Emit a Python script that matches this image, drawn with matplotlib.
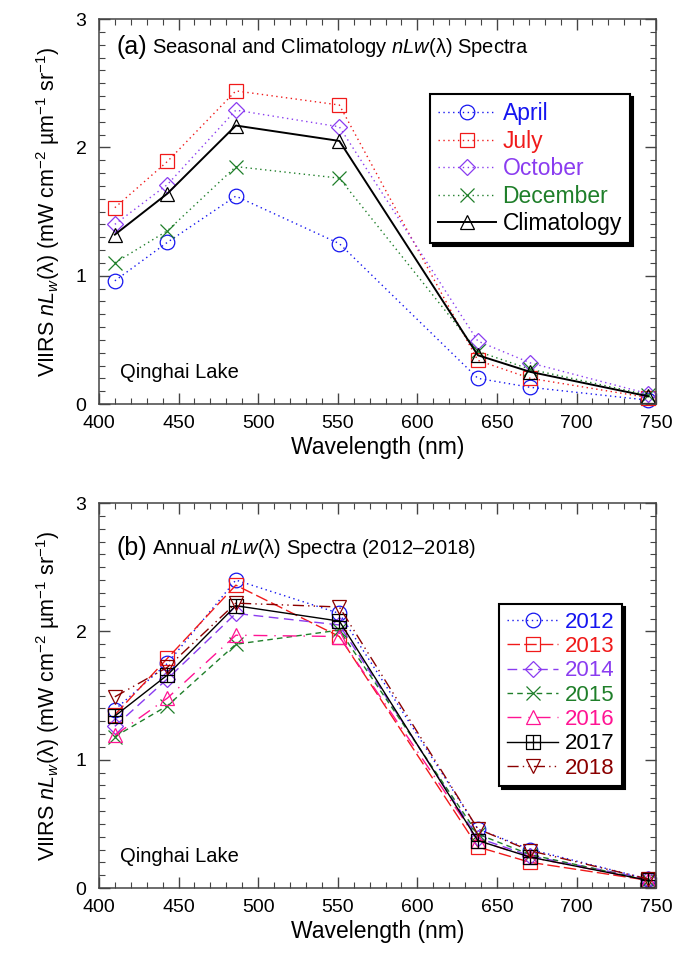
import numpy as np
import matplotlib
matplotlib.use("Agg")
import matplotlib.pyplot as plt
from matplotlib.path import Path
from matplotlib.ticker import MultipleLocator

plt.rcParams['font.family'] = ['Liberation Sans', 'DejaVu Sans']
plt.rcParams['mathtext.fontset'] = 'custom'
plt.rcParams['mathtext.rm'] = 'Liberation Sans'
plt.rcParams['mathtext.it'] = 'Liberation Sans:italic'

## VIIRS band centre wavelengths (nm)
wavelength = [410, 443, 486, 551, 638, 671, 745]

## seasonal and climatology spectra
april = [0.96, 1.26, 1.62, 1.25, 0.20, 0.13, 0.03]
july = [1.53, 1.89, 2.44, 2.33, 0.34, 0.20, 0.05]
october = [1.40, 1.71, 2.29, 2.16, 0.49, 0.32, 0.08]
december = [1.10, 1.35, 1.85, 1.76, 0.41, 0.27, 0.07]
climatology = [1.32, 1.64, 2.17, 2.05, 0.38, 0.25, 0.06]

## annual spectra
y2012 = [1.39, 1.75, 2.40, 2.14, 0.46, 0.30, 0.07]
y2013 = [1.35, 1.79, 2.36, 1.96, 0.32, 0.20, 0.06]
y2014 = [1.26, 1.63, 2.14, 2.05, 0.39, 0.25, 0.07]
y2015 = [1.18, 1.42, 1.90, 2.01, 0.42, 0.26, 0.06]
y2016 = [1.19, 1.48, 1.97, 1.96, 0.37, 0.24, 0.06]
y2017 = [1.34, 1.66, 2.20, 2.08, 0.37, 0.24, 0.06]
y2018 = [1.49, 1.72, 2.22, 2.19, 0.46, 0.29, 0.07]

# square with a cross inside, for 2017
boxplus = Path([(-1, -1), (1, -1), (1, 1), (-1, 1), (-1, -1),
                (0, -1), (0, 1), (-1, 0), (1, 0)],
               [Path.MOVETO, Path.LINETO, Path.LINETO, Path.LINETO, Path.CLOSEPOLY,
                Path.MOVETO, Path.LINETO, Path.MOVETO, Path.LINETO])

dotted = (0, (1, 2.5))

seasonal = [
    ("April", april, "#1515f0", "o", dotted, 1.0),
    ("July", july, "#f01a1a", "s", dotted, 1.0),
    ("October", october, "#8a3cf0", "D", dotted, 1.0),
    ("December", december, "#1f7f2a", "x", dotted, 1.0),
    ("Climatology", climatology, "black", "^", "-", 1.4),
]

annual = [
    ("2012", y2012, "#1515f0", "o", dotted),
    ("2013", y2013, "#f01a1a", "s", (0, (9, 3))),
    ("2014", y2014, "#8a3cf0", "D", (0, (7, 4))),
    ("2015", y2015, "#1f7f2a", "x", (0, (4, 3))),
    ("2016", y2016, "#ff1493", "^", (0, (10, 5, 1, 5))),
    ("2017", y2017, "black", boxplus, "-"),
    ("2018", y2018, "#8b0000", "v", (0, (8, 3, 1, 3, 1, 3))),
]

fig = plt.figure(figsize=(6.73, 9.56), dpi=100)
ax1 = fig.add_axes([0.147, 0.5774, 0.828, 0.4027])
ax2 = fig.add_axes([0.147, 0.0711, 0.828, 0.4027])


def style_axes(ax):
    ax.set_xlim(400, 750)
    ax.set_ylim(0, 3)
    ax.xaxis.set_major_locator(MultipleLocator(50))
    ax.xaxis.set_minor_locator(MultipleLocator(10))
    ax.yaxis.set_major_locator(MultipleLocator(1))
    ax.yaxis.set_minor_locator(MultipleLocator(0.1))
    ax.tick_params(which='both', direction='in', top=True, right=True,
                   labelsize=14, color='#444444')
    ax.tick_params(which='major', length=8, width=1)
    ax.tick_params(which='minor', length=4, width=0.8)
    ax.tick_params(axis='x', which='major', pad=8)
    ax.tick_params(axis='y', which='major', pad=9)
    for sp in ax.spines.values():
        sp.set_linewidth(1.1)
        sp.set_color('#444444')
    ax.set_xlabel("Wavelength (nm)", fontsize=16.5, labelpad=3)
    ax.set_ylabel(r"VIIRS $nL_w$(λ) (mW cm$^{-2}$ µm$^{-1}$ sr$^{-1}$)", fontsize=15.5, labelpad=10)
    ax.text(0.038, 0.083, "Qinghai Lake", transform=ax.transAxes, fontsize=14.5,
            va='center', ha='left')


def style_legend(leg):
    leg.get_frame().set_edgecolor('black')
    leg.get_frame().set_linewidth(1.5)


for name, vals, col, mk, ls, lw in seasonal:
    ax1.plot(wavelength, vals, color=col, linestyle=ls, linewidth=lw, marker=mk,
             markersize=10.5 if mk != "D" else 8.5, markerfacecolor='none',
             markeredgecolor=col, markeredgewidth=0.9, label=name, clip_on=False)
style_axes(ax1)
ax1.text(0.032, 0.927, "(a)", transform=ax1.transAxes, fontsize=18, va='center')
ax1.text(0.095, 0.927, r"Seasonal and Climatology $\mathit{nLw}$(λ) Spectra",
         transform=ax1.transAxes, fontsize=14.5, va='center')
leg1 = ax1.legend(loc='upper right', bbox_to_anchor=(0.953, 0.805), fontsize=16.5,
                  handlelength=2.5, handletextpad=0.3, labelspacing=0.2,
                  borderpad=0.35, borderaxespad=0, fancybox=False,
                  labelcolor='linecolor', shadow={'color': 'black', 'alpha': 1.0})
style_legend(leg1)

for name, vals, col, mk, ls in annual:
    ax2.plot(wavelength, vals, color=col, linestyle=ls, linewidth=1.0, marker=mk,
             markersize=10.5 if mk != "D" else 8.5, markerfacecolor='none',
             markeredgecolor=col, markeredgewidth=0.9, label=name, clip_on=False)
style_axes(ax2)
ax2.text(0.032, 0.883, "(b)", transform=ax2.transAxes, fontsize=18, va='center')
ax2.text(0.095, 0.883, r"Annual $\mathit{nLw}$(λ) Spectra (2012–2018)",
         transform=ax2.transAxes, fontsize=14.5, va='center')
leg2 = ax2.legend(loc='upper right', bbox_to_anchor=(0.939, 0.738), fontsize=16,
                  handlelength=2.3, handletextpad=0.3, labelspacing=0.15,
                  borderpad=0.35, borderaxespad=0, fancybox=False,
                  labelcolor='linecolor', shadow={'color': 'black', 'alpha': 1.0})
style_legend(leg2)

fig.savefig("out.png", dpi=100)
